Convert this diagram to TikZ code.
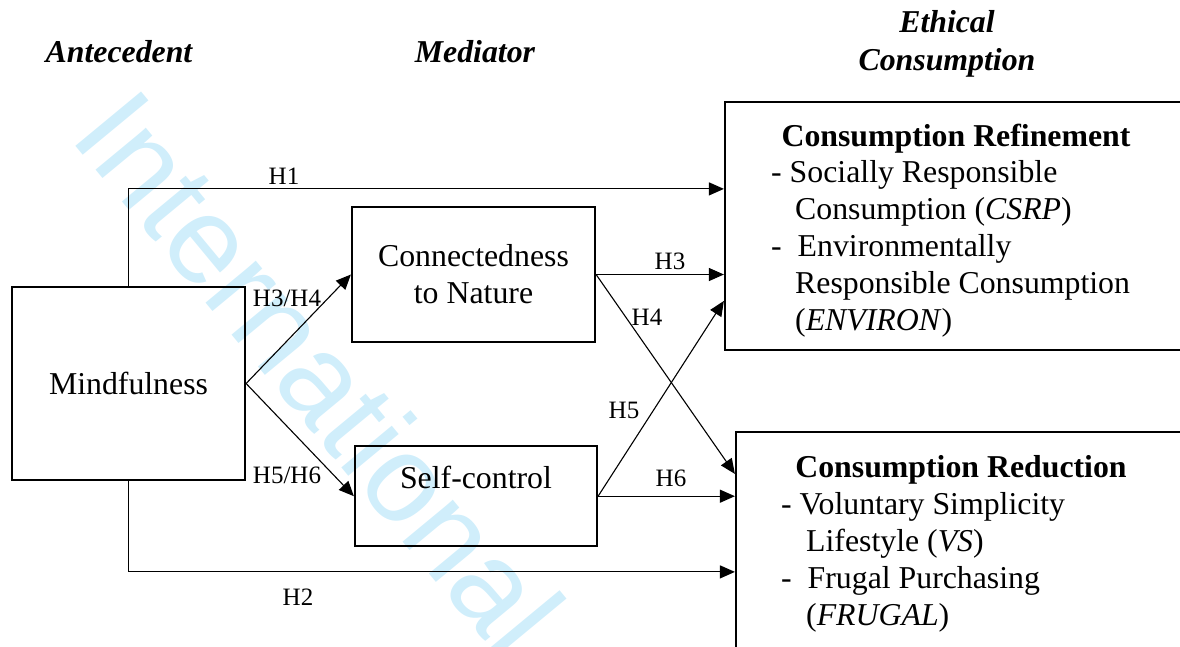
\documentclass[tikz,border=0pt]{standalone}
\usepackage{fontspec}
\setmainfont{Liberation Serif}
\newfontfamily\wmfont{Liberation Sans}
\usetikzlibrary{positioning, calc, arrows.meta}
\definecolor{wmblue}{RGB}{208,238,251}

\begin{document}
\begin{tikzpicture}[
		x=1pt, y=-1pt,
		node distance=102pt and 20pt,
		% --- cajas de las variables ---
		var_box/.style={
			rectangle,
			draw,
			line width=2.2pt,
			inner sep=0pt,
			align=center,
			font=\fontsize{31.8}{37}\selectfont
		},
		head_text/.style={
			inner sep=0pt,
			align=center,
			font=\fontsize{31.8}{38}\selectfont\bfseries\itshape
		},
		list_text/.style={
			inner sep=0pt,
			align=left,
			font=\fontsize{31.8}{37}\selectfont
		},
		hyp_label/.style={
			inner sep=0pt,
			font=\fontsize{25}{30}\selectfont
		},
		path_arrow/.style={
			-{Triangle[length=15pt, width=13pt]},
			line width=1.1pt
		}
		]
		
		\useasboundingbox (0,0) rectangle (1180,646);
		\clip (0,0) rectangle (1180,646);
		
		% --- MARCA DE AGUA ---
		\node (watermark) [rotate=-50.4, anchor=base, inner sep=0pt, text=wmblue, font=\wmfont\fontsize{124}{124}\selectfont] at (286,400) {International};
		
		% --- TITULOS DE COLUMNA ---
		\node (antec) [head_text, anchor=base] at (119,62) {Antecedent};
		\node (medi) [head_text, anchor=base] at (475,62) {Mediator};
		\node (ethic) [head_text, anchor=north] at (947,10) {Ethical\\Consumption};
		
		% --- ANTECEDENTE Y MEDIADORES ---
		\node (mind) [var_box, minimum width=233pt, minimum height=193pt] at (128.5,383.5) {Mindfulness};
		\node (nature) [var_box, minimum width=243pt, minimum height=135pt] at (473.5,274.5) {Connectedness\\to Nature};
		% Segunda linea vacia para subir el texto
		\node (selfctl) [var_box, minimum width=242pt, minimum height=100pt, below=102pt of nature, xshift=2.5pt] {Self-control\\\phantom{x}};
		
		% --- CONSUMO ETICO ---
		\node (refine) [var_box, minimum width=470pt, minimum height=248pt] at (960,226) {};
		\node (refhead) [anchor=base, inner sep=0pt, font=\fontsize{31.8}{37}\selectfont\bfseries] at (956,146) {Consumption Refinement};
		\node (reflist) [list_text, anchor=north west] at (771,160) {- Socially Responsible\\
			\hspace*{24pt}Consumption (\textit{CSRP})\\
			-\ \ Environmentally\\
			\hspace*{24pt}Responsible Consumption\\
			\hspace*{24pt}(\textit{ENVIRON})};
		
		\node (reduce) [var_box, minimum width=460pt, minimum height=228pt] at (966,546) {};
		\node (redhead) [anchor=base, inner sep=0pt, font=\fontsize{31.8}{37}\selectfont\bfseries] at (961,477) {Consumption Reduction};
		\node (redlist) [list_text, anchor=north west] at (781,492) {- Voluntary Simplicity\\
			\hspace*{25pt}Lifestyle (\textit{VS})\\
			-\ \ Frugal Purchasing\\
			\hspace*{25pt}(\textit{FRUGAL})};
		
		% --- HIPOTESIS ---
		\draw [path_arrow] (mind.north) |- ($(refine.north west)+(0,88)$);
		\draw [path_arrow] (mind.south) |- ($(reduce.north west)+(0,141)$);
		\draw [path_arrow] (mind.east) -- (nature.west);
		\draw [path_arrow] (mind.east) -- (selfctl.west);
		\draw [path_arrow] (nature.east) -- (nature.east -| refine.west);
		\draw [path_arrow] (nature.east) -- ($(reduce.north west)+(0,43)$);
		\draw [path_arrow] (selfctl.east) -- ($(refine.north west)+(0,200)$);
		\draw [path_arrow] (selfctl.east) -- (selfctl.east -| reduce.west);
		
		\node (h1) [hyp_label] at (284,176) {H1};
		\node (h2) [hyp_label] at (298,597) {H2};
		\node (h34) [hyp_label] at (287,298) {H3/H4};
		\node (h56) [hyp_label] at (287,475) {H5/H6};
		\node (h3) [hyp_label] at (670,261) {H3};
		\node (h4) [hyp_label] at (647,317) {H4};
		\node (h5) [hyp_label] at (624,410) {H5};
		\node (h6) [hyp_label] at (671,478) {H6};
		
	\end{tikzpicture}
\end{document}
